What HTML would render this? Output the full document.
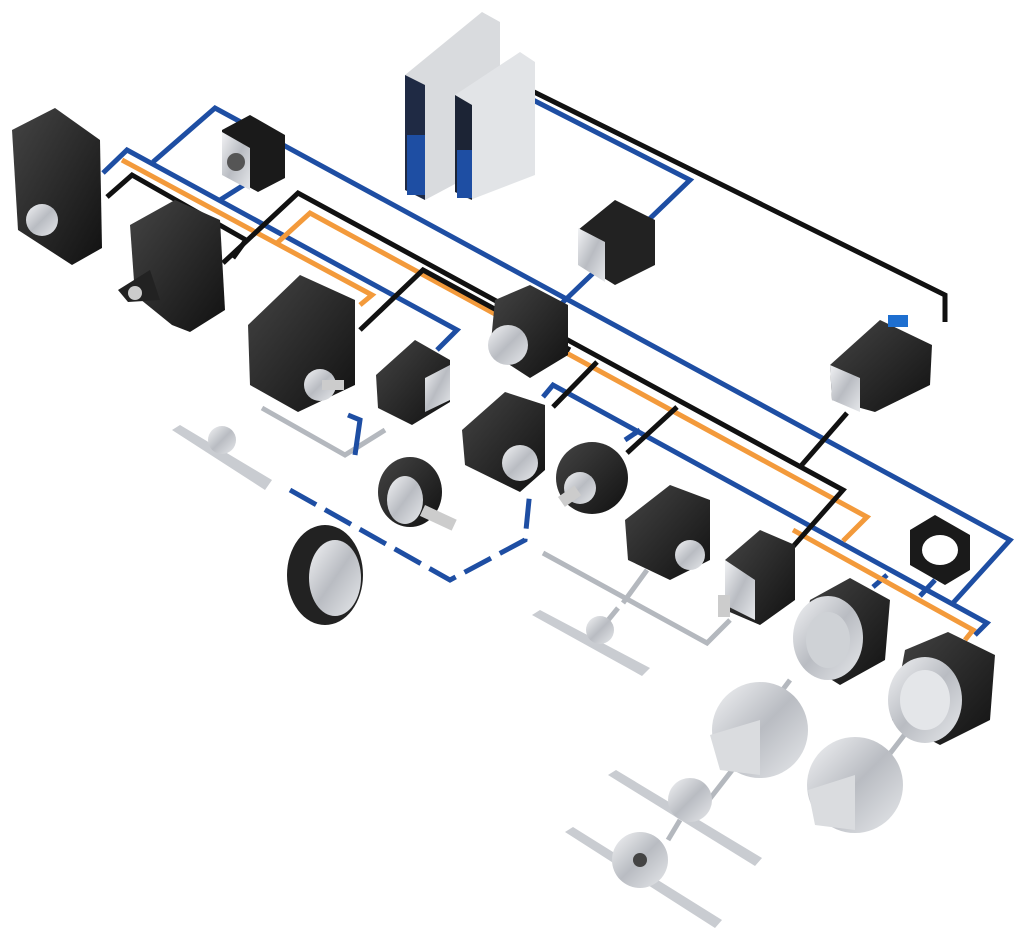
<!DOCTYPE html>
<html><head><meta charset="utf-8"><style>
html,body{margin:0;padding:0;background:#fff;width:1024px;height:945px;overflow:hidden}
svg{display:block}
</style></head><body>
<svg width="1024" height="945" viewBox="0 0 1024 945" xmlns="http://www.w3.org/2000/svg">
<defs>
<linearGradient id="sil" x1="0" y1="0" x2="1" y2="1"><stop offset="0" stop-color="#f2f3f5"/><stop offset="0.5" stop-color="#b9bcc2"/><stop offset="1" stop-color="#e6e8eb"/></linearGradient>
<linearGradient id="drk" x1="0" y1="0" x2="1" y2="1"><stop offset="0" stop-color="#444"/><stop offset="1" stop-color="#111"/></linearGradient>
</defs>
<g fill="none" stroke-linejoin="miter" stroke-width="5">
<g stroke="#b4b8be">
<polyline points="262,408 345,455 385,430"/>
<polyline points="543,553 707,643 730,620"/>
<line x1="623" y1="603" x2="647" y2="570"/>
<line x1="600" y1="630" x2="618" y2="608"/>
<line x1="790" y1="680" x2="745" y2="740"/>
<line x1="740" y1="760" x2="705" y2="805"/>
<line x1="680" y1="820" x2="668" y2="840"/>
<line x1="912" y1="725" x2="885" y2="760"/>
</g>
<g stroke="#1e4ea3">
<polyline points="103,173 127,150 457,330 437,350"/>
<polyline points="153,162 215,108 1010,540 953,603"/>
<line x1="220" y1="200" x2="247" y2="183"/>
<polyline points="533,100 690,180 560,305"/>
<polyline points="543,397 553,385 987,623 975,635"/>
<line x1="625" y1="440" x2="640" y2="430"/>
<line x1="873" y1="587" x2="887" y2="575"/>
<line x1="920" y1="596" x2="935" y2="580"/>
<polyline points="355,455 360,420 348,415" />
<polyline points="290,490 450,580 525,540 530,490" stroke-dasharray="30,10"/>
</g>
<g stroke="#f39a3b">
<polyline points="122,160 372,295 360,305"/>
<polyline points="277,243 310,213 867,517 843,541"/>
<polyline points="793,530 973,630 965,640"/>
</g>
<g stroke="#111">
<polyline points="107,197 132,175 246,240 233,258"/>
<polyline points="223,263 298,193 843,490 790,550"/>
<polyline points="360,330 423,270 570,350"/>
<polyline points="530,90 945,295 945,322"/>
<line x1="597" y1="362" x2="553" y2="407"/>
<line x1="677" y1="407" x2="627" y2="453"/>
<line x1="847" y1="413" x2="800" y2="467"/>
</g>
</g>
<g stroke="none">
<polygon points="405,75 482,12 500,22 500,160 425,200 405,190" fill="#d9dbde"/>
<polygon points="405,75 425,85 425,200 405,190" fill="#1f2a44"/>
<rect x="407" y="135" width="18" height="60" fill="#1e4ea3"/>
<polygon points="455,95 520,52 535,62 535,175 470,200 455,192" fill="#e2e4e7"/>
<polygon points="455,95 472,105 472,200 455,192" fill="#1c2435"/>
<rect x="457" y="150" width="15" height="48" fill="#1e4ea3"/>
<polygon points="12,130 55,108 100,140 102,248 72,265 18,230" fill="url(#drk)"/>
<circle cx="42" cy="220" r="16" fill="url(#sil)"/>
<polygon points="222,130 250,115 285,135 285,178 258,192 222,172" fill="#1a1a1a"/>
<polygon points="222,132 250,148 250,190 222,175" fill="url(#sil)"/>
<circle cx="236" cy="162" r="9" fill="#555"/>
<polygon points="130,225 175,200 220,220 225,310 190,332 172,325 135,295" fill="url(#drk)"/>
<polygon points="118,290 150,270 160,300 128,302" fill="#222"/>
<circle cx="135" cy="293" r="7" fill="#ccc"/>
<polygon points="248,325 300,275 355,300 355,385 298,412 250,385" fill="url(#drk)"/>
<circle cx="320" cy="385" r="16" fill="url(#sil)"/>
<rect x="322" y="380" width="22" height="10" fill="#ccc"/>
<polygon points="376,375 415,340 450,360 450,402 412,425 378,408" fill="url(#drk)"/>
<polygon points="425,378 450,365 450,400 425,412" fill="url(#sil)"/>
<polygon points="495,300 530,285 568,305 568,355 530,378 490,352" fill="url(#drk)"/>
<circle cx="508" cy="345" r="20" fill="url(#sil)"/>
<polygon points="578,230 615,200 655,220 655,265 615,285 578,262" fill="#222"/>
<polygon points="578,228 605,242 605,282 578,265" fill="url(#sil)"/>
<polygon points="830,365 880,320 932,345 930,385 875,412 832,400" fill="url(#drk)"/>
<polygon points="830,365 860,378 860,412 832,400" fill="url(#sil)"/>
<rect x="888" y="315" width="20" height="12" fill="#1e6fd0"/>
<polygon points="462,430 505,392 545,405 545,470 520,492 465,465" fill="url(#drk)"/>
<circle cx="520" cy="463" r="18" fill="url(#sil)"/>
<ellipse cx="410" cy="492" rx="32" ry="35" fill="url(#drk)"/>
<ellipse cx="405" cy="500" rx="18" ry="24" fill="url(#sil)"/>
<rect x="425" y="505" width="35" height="12" transform="rotate(25 425 505)" fill="#ccc"/>
<ellipse cx="325" cy="575" rx="38" ry="50" fill="#222"/>
<ellipse cx="335" cy="578" rx="26" ry="38" fill="url(#sil)"/>
<ellipse cx="592" cy="478" rx="36" ry="36" fill="url(#drk)"/>
<circle cx="580" cy="488" r="16" fill="url(#sil)"/>
<rect x="558" y="497" width="20" height="12" transform="rotate(-35 558 497)" fill="#ccc"/>
<polygon points="625,520 670,485 710,500 710,560 670,580 628,560" fill="url(#drk)"/>
<circle cx="690" cy="555" r="15" fill="url(#sil)"/>
<polygon points="725,560 760,530 795,545 795,600 760,625 725,610" fill="url(#drk)"/>
<polygon points="725,560 755,580 755,620 725,605" fill="url(#sil)"/>
<rect x="718" y="595" width="12" height="22" fill="#ccc"/>
<polygon points="910,530 935,515 970,535 970,570 945,585 910,565" fill="#1a1a1a"/>
<ellipse cx="940" cy="550" rx="18" ry="15" fill="#fff"/>
<polygon points="810,600 850,578 890,600 885,660 840,685 800,660" fill="url(#drk)"/>
<ellipse cx="828" cy="638" rx="35" ry="42" fill="url(#sil)"/>
<ellipse cx="828" cy="640" rx="22" ry="28" fill="#cfd2d6"/>
<polygon points="905,650 948,632 995,655 990,720 940,745 892,720" fill="url(#drk)"/>
<ellipse cx="925" cy="700" rx="37" ry="43" fill="url(#sil)"/>
<ellipse cx="925" cy="700" rx="25" ry="30" fill="#e4e6e9"/>
<ellipse cx="760" cy="730" rx="48" ry="48" fill="url(#sil)"/>
<polygon points="710,735 760,720 760,775 720,770" fill="#dadcdf"/>
<ellipse cx="855" cy="785" rx="48" ry="48" fill="url(#sil)"/>
<polygon points="808,790 855,775 855,830 815,825" fill="#dadcdf"/>
<g fill="#c9ccd1">
<polygon points="172,430 180,425 272,480 265,490"/>
<polygon points="532,615 540,610 650,668 642,676"/>
<polygon points="608,775 616,770 762,858 755,866"/>
<polygon points="565,832 573,827 722,920 715,928"/>
</g>
<circle cx="222" cy="440" r="14" fill="url(#sil)"/>
<circle cx="600" cy="630" r="14" fill="url(#sil)"/>
<circle cx="690" cy="800" r="22" fill="url(#sil)"/>
<circle cx="640" cy="860" r="28" fill="url(#sil)"/>
<circle cx="640" cy="860" r="7" fill="#444"/>
</g>
</svg>
</body></html>
